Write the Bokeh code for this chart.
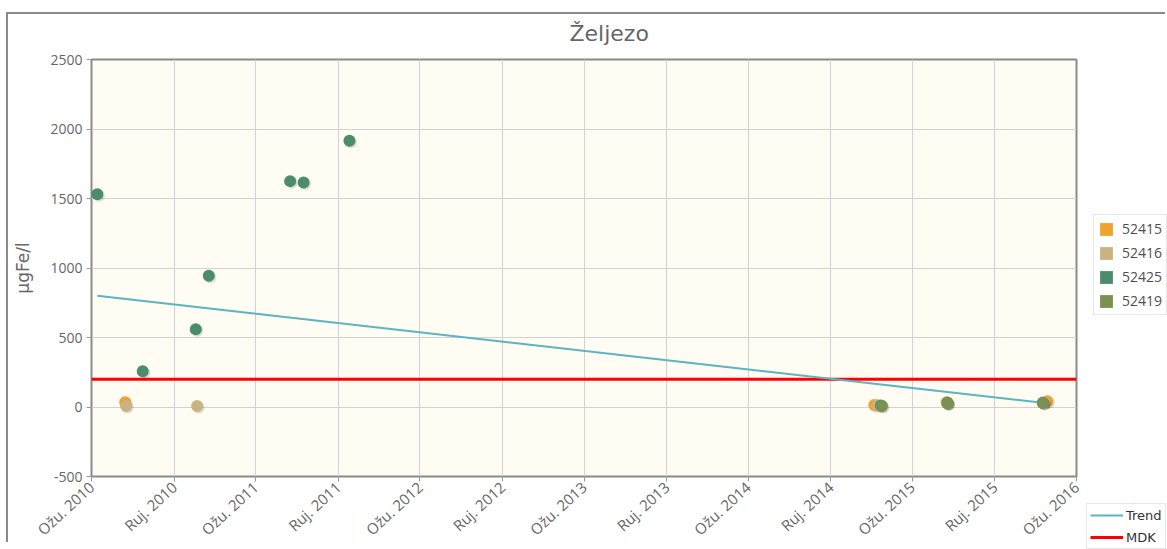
import pandas as pd
from bokeh.plotting import figure
from bokeh.models import FixedTicker, Legend, LegendItem, Div
from bokeh.embed import file_html
from bokeh.resources import INLINE

# ---------------- data ----------------
tick_dates = ["2010-03-01", "2010-09-01", "2011-03-01", "2011-09-01", "2012-03-01",
              "2012-09-01", "2013-03-01", "2013-09-01", "2014-03-01", "2014-09-01",
              "2015-03-01", "2015-09-01", "2016-03-01"]
tick_labels = ["Ožu. 2010", "Ruj. 2010", "Ožu. 2011", "Ruj. 2011", "Ožu. 2012",
               "Ruj. 2012", "Ožu. 2013", "Ruj. 2013", "Ožu. 2014", "Ruj. 2014",
               "Ožu. 2015", "Ruj. 2015", "Ožu. 2016"]
y_ticks = [-500, 0, 500, 1000, 1500, 2000, 2500]
y_tick_labels = ["-500", "0", "500", "1000", "1500", "2000", "2500"]

s52415_dates = ["2010-05-15", "2014-12-07", "2015-05-17", "2015-12-27"]
s52415_vals = [35, 15, 35, 42]

s52416_dates = ["2010-05-17", "2010-10-22", "2014-12-14", "2015-05-18", "2015-12-20"]
s52416_vals = [8, 7, 12, 28, 35]

s52425_dates = ["2010-03-14", "2010-06-23", "2010-10-19", "2010-11-17", "2011-05-17",
                "2011-06-16", "2011-09-26", "2014-12-22", "2015-05-19", "2015-12-17"]
s52425_vals = [1530, 258, 560, 945, 1625, 1615, 1915, 10, 30, 30]

s52419_dates = ["2014-12-24", "2015-05-19", "2015-12-17"]
s52419_vals = [8, 25, 28]

trend_dates = ["2010-03-14", "2015-12-17"]
trend_vals = [800, 30]

mdk_value = 200

series_names = ["52415", "52416", "52425", "52419"]
series_colors = ["#f0a22e", "#c9b383", "#4a8c6c", "#7a9152"]
TREND_COLOR = "#5ab5bf"
MDK_COLOR = "#ff0000"
BORDER = "2px solid #8a8a8a"


def ms(dates):
    return [float(v) / 1e6 for v in pd.to_datetime(dates).asi8]


tick_ms = ms(tick_dates)
x0, x1 = tick_ms[0], tick_ms[-1]
y0, y1 = y_ticks[0], y_ticks[-1]

FRAME_W, FRAME_H = 985, 417
px_x = (x1 - x0) / FRAME_W
px_y = (y1 - y0) / FRAME_H

# ---------------- main chart ----------------
p = figure(width=1075, height=549, x_range=(x0, x1), y_range=(y0, y1),
           output_backend="svg", toolbar_location=None,
           min_border_left=83, min_border_right=7, min_border_top=59,
           min_border_bottom=73)
p.styles = {"position": "absolute", "left": "8px", "top": "0px"}

p.background_fill_color = "#fffcf3"
p.border_fill_color = "white"
p.outline_line_color = "#8a8a8a"
p.outline_line_width = 2

p.title.text = "Željezo"
p.title.align = "left"
p.title.offset = 478
p.title.standoff = 28
p.title.text_font = "DejaVu Sans"
p.title.text_font_size = "22px"
p.title.text_font_style = "normal"
p.title.text_color = "#666666"

p.grid.grid_line_color = "#d2d2d2"
p.grid.grid_line_width = 1

p.xaxis.ticker = FixedTicker(ticks=tick_ms)
p.xaxis.major_label_overrides = dict(zip(tick_ms, tick_labels))
p.xaxis.major_label_orientation = 0.74
p.yaxis.ticker = FixedTicker(ticks=y_ticks)
p.yaxis.major_label_overrides = dict(zip(y_ticks, y_tick_labels))
p.yaxis.axis_label = "µgFe/l"
p.yaxis.axis_label_text_font = "DejaVu Sans"
p.yaxis.axis_label_text_font_size = "17px"
p.yaxis.axis_label_text_font_style = "normal"
p.yaxis.axis_label_text_color = "#666666"
p.yaxis.axis_label_standoff = 14
for ax in (p.xaxis, p.yaxis):
    ax.axis_line_color = None
    ax.major_tick_line_color = "#9a9a9a"
    ax.major_tick_out = 5
    ax.major_tick_in = 0
    ax.minor_tick_line_color = None
    ax.major_label_text_font = "Open Sans"
    ax.major_label_text_color = "#666666"
p.xaxis.major_label_text_font_size = "15px"
p.yaxis.major_label_text_font_size = "14px"
p.yaxis.major_label_standoff = 4
p.xaxis.major_label_standoff = 3

# MDK line and trend line
p.line([x0, x1], [mdk_value, mdk_value], line_color=MDK_COLOR, line_width=3)
p.line(ms(trend_dates), trend_vals, line_color=TREND_COLOR, line_width=2)

# scatter series with soft shadow
all_dates = [s52415_dates, s52416_dates, s52425_dates, s52419_dates]
all_vals = [s52415_vals, s52416_vals, s52425_vals, s52419_vals]
for name, col, d, v in zip(series_names, series_colors, all_dates, all_vals):
    xs = ms(d)
    p.scatter([x + 1.5 * px_x for x in xs], [y - 1.5 * px_y for y in v], size=12,
              fill_color="black", fill_alpha=0.13, line_color=None)
    p.scatter(xs, v, size=12, fill_color=col, line_color=None)

# ---------------- legend strip (separate canvas on the right) ----------------
p2 = figure(width=84, height=549, x_range=(0, 1), y_range=(0, 1),
            output_backend="svg", toolbar_location=None,
            x_axis_location=None, y_axis_location=None,
            min_border=0, min_border_left=0, min_border_right=0,
            min_border_top=0, min_border_bottom=0)
p2.styles = {"position": "absolute", "left": "1083px", "top": "0px"}
p2.grid.visible = False
p2.outline_line_color = None
p2.background_fill_color = "white"
p2.border_fill_color = "white"

# legend proxies: kept outside the (0, 1) view so only their legend glyphs show
items1 = []
for name, col in zip(series_names, series_colors):
    sw = p2.quad(left=[5], right=[6], top=[6], bottom=[5], fill_color=col, line_color=None)
    items1.append(LegendItem(label=name, renderers=[sw]))

leg1 = Legend(items=items1, location=(10, 234), orientation="vertical",
              glyph_width=16, glyph_height=16, label_standoff=8, spacing=5,
              padding=4, margin=0, border_line_color="#d0d0d0",
              background_fill_color="white", background_fill_alpha=1,
              label_text_font="Open Sans", label_text_font_size="14px",
              label_text_color="#505050", label_height=17)
p2.add_layout(leg1)

tr = p2.line(x=[5, 6], y=[5, 5], line_color=TREND_COLOR, line_width=2)
mr = p2.line(x=[5, 6], y=[6, 6], line_color=MDK_COLOR, line_width=3)
leg2 = Legend(items=[LegendItem(label="Trend", renderers=[tr]),
                     LegendItem(label="MDK", renderers=[mr])],
              location=(3, 0), orientation="vertical",
              glyph_width=33, glyph_height=14, label_standoff=3, spacing=6,
              padding=3, margin=0, border_line_color="#d0d0d0",
              background_fill_color="white", background_fill_alpha=1,
              label_text_font="DejaVu Sans", label_text_font_size="13px",
              label_text_color="#333333", label_height=16)
p2.add_layout(leg2)

# outer frame of the whole chart (transparent overlay, borders only)
frame_div = Div(text="", width=1159, height=530, margin=0)
frame_div.styles = {"position": "absolute", "left": "6px", "top": "12px",
                    "border-left": BORDER, "border-top": BORDER,
                    "pointer-events": "none", "z-index": "10",
                    "background": "transparent"}

open("out.html", "w").write(file_html([p, p2, frame_div], INLINE))
